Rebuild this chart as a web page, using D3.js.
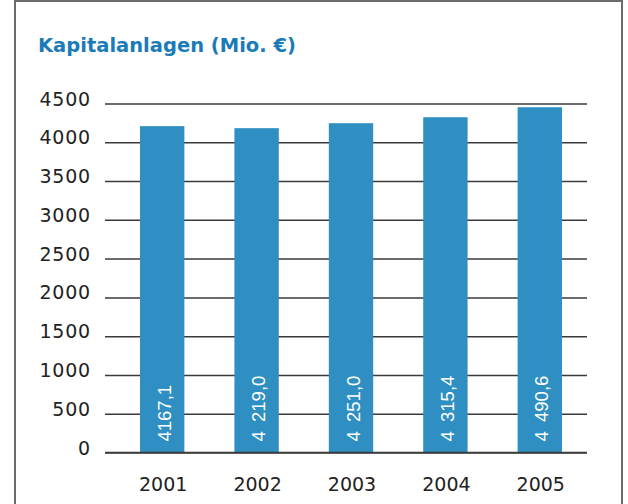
<!DOCTYPE html>
<html>
<head>
<meta charset="utf-8">
<script src="https://cdn.jsdelivr.net/npm/d3@7"></script>
<style>
  body { margin: 0; background: #fff; }
  svg { display: block; }
</style>
</head>
<body>
<div id="chart"></div>
<script>
// data
const years = ["2001", "2002", "2003", "2004", "2005"];
const values = [4208, 4182, 4246, 4323, 4452];
const valueLabels = ["4167,1", "4\u2002219,0", "4\u2002251,0", "4\u2002315,4", "4\u2002490,6"];
const yTicks = [0, 500, 1000, 1500, 2000, 2500, 3000, 3500, 4000, 4500];

const W = 628, H = 504;
const font = "'DejaVu Sans', 'Liberation Sans', Arial, sans-serif";
const font2 = "'Liberation Sans', Arial, Helvetica, sans-serif";

const svg = d3.select("#chart").append("svg")
    .attr("width", W)
    .attr("height", H);

// frame (left, top, right)
svg.append("path")
    .attr("d", "M15,504 L15,1 L622,1 L622,504")
    .attr("fill", "none")
    .attr("stroke", "#6b6b6b")
    .attr("stroke-width", 2);

// title
svg.append("text")
    .attr("x", 38)
    .attr("y", 52)
    .attr("fill", "#1b7bb8")
    .style("font-family", font)
    .style("font-size", "19.5px")
    .style("font-weight", "bold")
    .text("Kapitalanlagen (Mio. \u20ac)");

// scales
const x = d3.scaleBand()
    .domain(years)
    .range([115, 587])
    .paddingInner(0.53)
    .paddingOuter(0.265);

const y = d3.scaleLinear()
    .domain([0, 4500])
    .range([452.5, 103.5]);

// gridlines
const grid = svg.append("g")
    .attr("transform", "translate(105,0)")
    .call(d3.axisLeft(y).tickValues(yTicks).tickSize(-482).tickFormat(""));
grid.select(".domain").remove();
grid.selectAll(".tick line")
    .attr("stroke", "#3a3a3a")
    .attr("stroke-width", 1.5);

// tick labels
svg.append("g")
  .selectAll("text")
  .data(yTicks)
  .join("text")
    .attr("x", 91)
    .attr("y", d => y(d) + 2)
    .attr("text-anchor", "end")
    .attr("fill", "#222")
    .style("font-family", font)
    .style("font-size", "19px")
    .style("letter-spacing", "0.8px")
    .text(d => d);

// bars
svg.append("g")
  .selectAll("rect")
  .data(values)
  .join("rect")
    .attr("x", (d, i) => x(years[i]))
    .attr("y", d => y(d))
    .attr("width", x.bandwidth())
    .attr("height", d => y(0) - y(d))
    .attr("fill", "#2f8fc2");

// baseline on top
svg.append("line")
    .attr("x1", 105).attr("x2", 587)
    .attr("y1", y(0)).attr("y2", y(0))
    .attr("stroke", "#3a3a3a")
    .attr("stroke-width", 1.5);

// value labels inside bars
svg.append("g")
  .selectAll("text")
  .data(valueLabels)
  .join("text")
    .attr("transform", (d, i) =>
        `translate(${x(years[i]) + x.bandwidth() / 2 + 8.5},${y(0) - 11}) rotate(-90)`)
    .attr("fill", "#fff")
    .style("font-family", font2)
    .style("font-size", "18.5px")
    .text(d => d);

// year labels
svg.append("g")
  .selectAll("text")
  .data(years)
  .join("text")
    .attr("x", d => x(d) + x.bandwidth() / 2 + 1)
    .attr("y", 491)
    .attr("text-anchor", "middle")
    .attr("fill", "#222")
    .style("font-family", font)
    .style("font-size", "19px")
    .text(d => d);
</script>
</body>
</html>
